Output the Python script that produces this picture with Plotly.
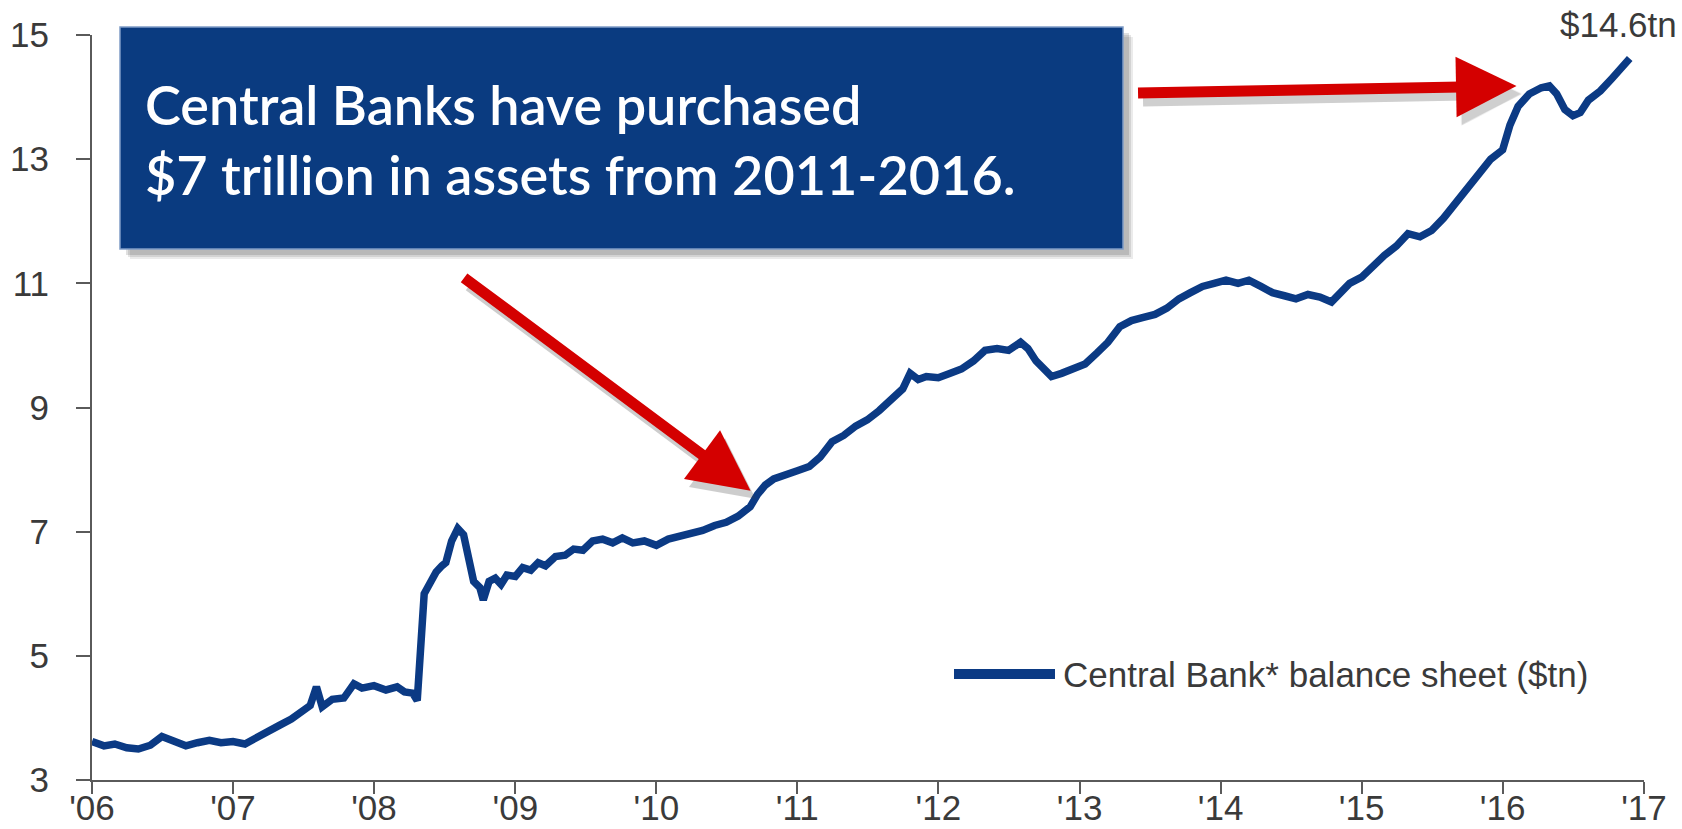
import plotly.graph_objects as go

# Central bank balance sheet, $ trillions
dates = [
    "2006-01-01", "2006-02-01", "2006-03-01", "2006-04-01", "2006-05-01", "2006-06-01",
    "2006-07-01", "2006-08-01", "2006-09-01", "2006-10-01", "2006-11-01", "2006-12-01",
    "2007-01-01", "2007-02-01", "2007-03-01", "2007-04-01", "2007-05-01", "2007-06-01",
    "2007-07-01", "2007-07-20", "2007-08-05", "2007-08-20", "2007-09-15", "2007-10-15",
    "2007-11-10", "2007-12-01", "2008-01-01", "2008-02-01", "2008-03-01", "2008-03-20",
    "2008-04-10", "2008-04-22", "2008-05-10", "2008-05-25", "2008-06-10", "2008-06-25",
    "2008-07-05", "2008-07-20", "2008-08-05", "2008-08-20", "2008-09-01", "2008-09-15",
    "2008-10-01", "2008-10-10", "2008-10-25", "2008-11-10", "2008-11-25", "2008-12-10",
    "2009-01-01", "2009-01-20", "2009-02-10", "2009-03-01", "2009-03-20", "2009-04-15",
    "2009-05-10", "2009-06-01", "2009-06-25", "2009-07-20", "2009-08-15", "2009-09-10",
    "2009-10-05", "2009-11-01", "2009-12-01", "2010-01-01", "2010-02-01", "2010-03-01",
    "2010-04-01", "2010-05-01", "2010-06-01", "2010-07-01", "2010-08-01", "2010-09-01",
    "2010-09-20", "2010-10-10", "2010-11-01", "2010-12-01", "2011-01-01", "2011-02-01",
    "2011-03-01", "2011-04-01", "2011-05-01", "2011-06-01", "2011-07-01", "2011-08-01",
    "2011-09-01", "2011-10-01", "2011-10-20", "2011-11-10", "2011-12-01", "2012-01-01",
    "2012-02-01", "2012-03-01", "2012-04-01", "2012-05-01", "2012-06-01", "2012-07-01",
    "2012-08-01", "2012-08-20", "2012-09-10", "2012-10-01", "2012-10-20", "2012-11-15",
    "2012-12-15", "2013-01-15", "2013-02-15", "2013-03-15", "2013-04-15", "2013-05-15",
    "2013-06-15", "2013-07-15", "2013-08-15", "2013-09-15", "2013-10-15", "2013-11-15",
    "2013-12-15", "2014-01-15", "2014-02-15", "2014-03-15", "2014-04-15", "2014-05-15",
    "2014-06-15", "2014-07-15", "2014-08-15", "2014-09-15", "2014-10-15", "2014-11-10",
    "2014-12-01", "2015-01-01", "2015-02-01", "2015-03-01", "2015-04-01", "2015-05-01",
    "2015-06-01", "2015-07-01", "2015-08-01", "2015-09-01", "2015-10-01", "2015-11-01",
    "2015-12-01", "2016-01-01", "2016-01-20", "2016-02-10", "2016-03-10", "2016-04-10",
    "2016-05-01", "2016-05-20", "2016-06-10", "2016-07-01", "2016-07-20", "2016-08-10",
    "2016-09-10", "2016-10-10", "2016-11-01", "2016-11-25",
]
balance = [
    3.62, 3.55, 3.58, 3.52, 3.50, 3.56,
    3.70, 3.62, 3.55, 3.60, 3.64, 3.60,
    3.62, 3.58, 3.68, 3.80, 3.88, 3.98,
    4.12, 4.20, 4.50, 4.18, 4.30, 4.32,
    4.55, 4.48, 4.52, 4.45, 4.50, 4.42,
    4.40, 4.28, 6.00, 6.20, 6.35, 6.45,
    6.50, 6.85, 7.05, 6.95, 6.55, 6.20,
    6.10, 5.90, 6.20, 6.25, 6.15, 6.30,
    6.28, 6.42, 6.38, 6.50, 6.45, 6.60,
    6.62, 6.72, 6.70, 6.85, 6.88, 6.82,
    6.90, 6.82, 6.85, 6.78, 6.88, 6.92,
    6.98, 7.02, 7.10, 7.15, 7.25, 7.40,
    7.60, 7.75, 7.85, 7.90, 7.98, 8.05,
    8.20, 8.45, 8.55, 8.70, 8.80, 8.95,
    9.15, 9.30, 9.55, 9.45, 9.50, 9.48,
    9.55, 9.62, 9.75, 9.92, 9.95, 9.92,
    10.05, 9.95, 9.75, 9.60, 9.50, 9.55,
    9.62, 9.70, 9.88, 10.05, 10.30, 10.40,
    10.45, 10.50, 10.60, 10.75, 10.85, 10.95,
    11.00, 11.05, 11.00, 11.05, 10.95, 10.85,
    10.80, 10.75, 10.82, 10.78, 10.70, 10.85,
    11.00, 11.10, 11.30, 11.45, 11.60, 11.80,
    11.75, 11.85, 12.05, 12.30, 12.55, 12.80,
    13.00, 13.15, 13.55, 13.85, 14.05, 14.15,
    14.18, 14.05, 13.80, 13.70, 13.75, 13.95,
    14.10, 14.30, 14.45, 14.62,
]

y_ticks = [3, 5, 7, 9, 11, 13, 15]
x_ticks = [f"{yr}-01-01" for yr in range(2006, 2018)]

series_name = "Central Bank* balance sheet ($tn)"
callout_lines = ["Central Banks have purchased", "$7 trillion in assets from 2011-2016."]
end_label = "$14.6tn"

NAVY = "#0b3a84"
RED = "#d40000"
AXIS = "#5a5a5a"
TEXT = "#3a3a3a"
SANS = "Liberation Sans, Arial, sans-serif"
FS = 35

fig = go.Figure()
fig.add_trace(go.Scatter(
    x=dates, y=balance, mode="lines", name=series_name,
    line=dict(color=NAVY, width=7.5), showlegend=False,
))

W, H = 1682, 829
ML, MR, MT, MB = 92, 38, 35, 49
PW, PH = W - ML - MR, H - MT - MB


def px_x(px):
    return (px - ML) / PW


def px_y(py):
    return (H - MB - py) / PH


shapes = []
# soft shadow under the callout box
for k, a in enumerate([0.08, 0.10, 0.12]):
    off = 10 - 2 * k
    shapes.append(dict(
        type="rect", xref="paper", yref="paper",
        x0=px_x(120 + off), x1=px_x(1123 + off),
        y0=px_y(249 + off), y1=px_y(27 + off),
        fillcolor=f"rgba(0,0,0,{a})", line=dict(width=0), layer="above",
    ))
# callout box
shapes.append(dict(
    type="rect", xref="paper", yref="paper",
    x0=px_x(120), x1=px_x(1123), y0=px_y(249), y1=px_y(27),
    fillcolor="#0a3b80", line=dict(color="#7f9cc6", width=1.5), layer="above",
))
# legend sample line
shapes.append(dict(
    type="line", xref="paper", yref="paper",
    x0=px_x(954), x1=px_x(1055), y0=px_y(674), y1=px_y(674),
    line=dict(color=NAVY, width=10), layer="above",
))

annotations = []
# callout text
annotations.append(dict(
    xref="paper", yref="paper", x=px_x(143), y=px_y(139),
    xanchor="left", yanchor="middle", align="left", showarrow=False,
    text="<br>".join(callout_lines),
    font=dict(family="Lato, Open Sans, sans-serif", size=54, color="white", weight=600),
))

# arrows (shadow first, then red)
arrow_specs = [
    dict(x="2016-02-06", y=14.18, ax=-380, ay=7),
    dict(x="2010-09-02", y=7.66, ax=-288, ay=-214),
]
for spec in arrow_specs:
    annotations.append(dict(
        x=spec["x"], y=spec["y"], xref="x", yref="y", ax=spec["ax"], ay=spec["ay"],
        axref="pixel", ayref="pixel", text="", showarrow=True,
        arrowhead=2, arrowwidth=11, arrowsize=1.1,
        arrowcolor="rgba(60,60,60,0.25)", xshift=5, yshift=-8,
    ))
for spec in arrow_specs:
    annotations.append(dict(
        x=spec["x"], y=spec["y"], xref="x", yref="y", ax=spec["ax"], ay=spec["ay"],
        axref="pixel", ayref="pixel", text="", showarrow=True,
        arrowhead=2, arrowwidth=11, arrowsize=1.1, arrowcolor=RED,
    ))

# end value label
annotations.append(dict(
    xref="paper", yref="paper", x=px_x(1618), y=px_y(24),
    xanchor="center", yanchor="middle", showarrow=False, text=end_label,
    font=dict(family=SANS, size=FS, color=TEXT),
))
# legend text
annotations.append(dict(
    xref="paper", yref="paper", x=px_x(1061), y=px_y(674),
    xanchor="left", yanchor="middle", showarrow=False, text=series_name,
    font=dict(family=SANS, size=FS, color=TEXT),
))

fig.update_layout(
    width=W, height=H,
    margin=dict(l=ML, r=MR, t=MT, b=MB, pad=0, autoexpand=False),
    paper_bgcolor="white", plot_bgcolor="white",
    shapes=shapes, annotations=annotations,
    font=dict(family=SANS, size=FS, color=TEXT),
)
fig.update_xaxes(
    type="date", range=["2006-01-01", "2017-01-01"],
    tickvals=x_ticks, tickformat="'%y", automargin=False,
    showgrid=False, zeroline=False,
    showline=True, linecolor=AXIS, linewidth=2,
    ticks="outside", ticklen=12, tickwidth=2, tickcolor=AXIS,
    ticklabelstandoff=-16,
    tickfont=dict(family=SANS, size=FS, color=TEXT),
)
fig.update_yaxes(
    range=[3, 15], tickvals=y_ticks, automargin=False,
    showgrid=False, zeroline=False,
    showline=True, linecolor=AXIS, linewidth=2,
    ticks="outside", ticklen=14, tickwidth=2, tickcolor=AXIS,
    ticklabelstandoff=20,
    tickfont=dict(family=SANS, size=FS, color=TEXT),
)

fig.write_html("out.html")
